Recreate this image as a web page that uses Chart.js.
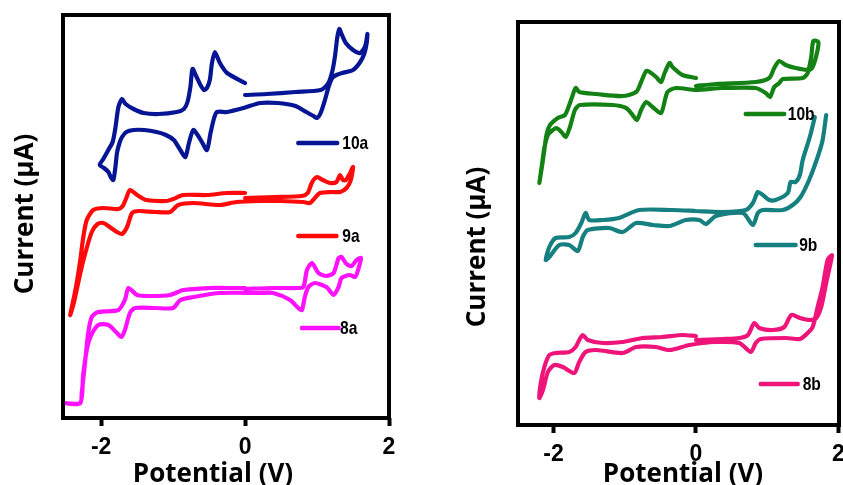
<!DOCTYPE html>
<html>
<head>
<meta charset="utf-8">
<script src="https://cdn.jsdelivr.net/npm/chart.js@4.4.1/dist/chart.umd.min.js"></script>
<style>
    html, body { margin: 0; padding: 0; background: #fff; overflow: hidden; width: 843px; height: 485px; }
    canvas { position: absolute; top: 0; }
    #leftChart { left: 0; }
    #rightChart { left: 423px; }
</style>
</head>
<body>
<canvas id="leftChart" width="420" height="485"></canvas>
<canvas id="rightChart" width="440" height="485"></canvas>
<script>
// tick labels of the potential axis
const xTicks = [-2, 0, 2];

const leftNames = ['10a', '9a', '8a'];
const rightNames = ['10b', '9b', '8b'];

// each curve: potential (V) and current (arbitrary, no y ticks), in sweep order
const cv10aV = [0.00, -0.25, -0.35, -0.42, -0.46, -0.49, -0.53, -0.57, -0.62, -0.68, -0.73, -0.76, -0.80, -0.85, -0.95, -1.20, -1.41, -1.55, -1.66, -1.71,
    -1.76, -1.80, -1.84, -1.90, -1.97, -2.02, -1.96, -1.90, -1.86, -1.83,
    -1.80, -1.78, -1.745, -1.71, -1.65, -1.55, -1.40, -1.23, -1.10, -0.99, -0.90, -0.83, -0.78, -0.72, -0.66, -0.60, -0.53, -0.48, -0.43, -0.39, -0.25, -0.02, 0.21, 0.45, 0.70, 0.85, 0.95, 1.00, 1.05, 1.11, 1.16, 1.21, 1.27, 1.35, 1.50, 1.60, 1.66, 1.69, 1.70,
    1.67, 1.60, 1.50, 1.40, 1.34, 1.31, 1.28, 1.25, 1.21, 1.15, 1.05, 0.70, 0.30, 0.00];
const cv10aI = [335, 345, 355, 366, 355, 338, 330, 328, 333, 342, 349, 331, 316, 309, 306, 304, 305, 309, 314, 319,
    311, 291, 276, 268, 259, 253, 250, 246, 240, 238,
    252, 265, 275, 281, 286, 288, 288, 286, 283, 278, 268, 261, 275, 288, 283, 276, 268, 285, 300, 306, 306, 310, 315, 315, 312, 306, 302, 300, 305, 318, 331, 340, 343, 345, 348, 356, 365, 375, 384,
    372, 365, 368, 375, 384, 389, 380, 362, 346, 334, 328, 326, 324, 323];

const cv9aV = [0.00, -0.25, -0.53, -0.86, -1.00, -1.09, -1.37, -1.50, -1.60, -1.65, -1.70, -1.76, -1.97, -2.11, -2.20, -2.25, -2.29, -2.34, -2.38, -2.43,
    -2.38, -2.34, -2.28, -2.22, -2.13, -2.05, -1.97, -1.88, -1.78, -1.71, -1.64, -1.57, -1.48, -1.25, -1.04, -0.93, -0.72, -0.35, -0.12, 0.21, 0.50, 0.81, 0.90, 0.97, 1.04, 1.20, 1.32, 1.41, 1.47, 1.50,
    1.46, 1.40, 1.36, 1.32, 1.27, 1.18, 1.08, 1.00, 0.96, 0.92, 0.87, 0.79, 0.40, 0.00];
const cv9aI = [225, 225, 223, 223, 219, 217, 218, 223, 228, 220, 212, 209, 210, 208, 198, 180, 158, 135, 120, 103,
    115, 128, 148, 165, 186, 194, 195, 191, 186, 184, 191, 205, 207, 206, 206, 213, 215, 213, 216, 217, 217, 216, 215, 220, 225, 226, 226, 230, 238, 251,
    245, 238, 238, 243, 236, 235, 238, 241, 239, 234, 225, 222, 221, 220];

const cv8aV = [0.00, -0.25, -0.49, -0.86, -1.04, -1.32, -1.50, -1.62, -1.67, -1.76, -2.04, -2.13, -2.18, -2.22, -2.27, -2.29, -2.51,
    -2.29, -2.25, -2.20, -2.15, -2.04, -1.90, -1.78, -1.72, -1.67, -1.60, -1.53, -1.25, -1.00, -0.90, -0.72, -0.35, 0.21, 0.39, 0.625, 0.74, 0.79, 0.83, 0.88, 0.97, 1.13, 1.23, 1.30, 1.34, 1.46, 1.53, 1.57, 1.61,
    1.55, 1.48, 1.41, 1.34, 1.30, 1.23, 1.13, 1.02, 0.93, 0.86, 0.81, 0.72, 0.39, 0.00];
const cv8aI = [130, 130, 130, 128, 123, 122, 123, 130, 118, 108, 106, 101, 85, 58, 25, 15, 15,
    15, 43, 68, 81, 93, 93, 85, 81, 88, 105, 110, 110, 110, 118, 121, 125, 125, 125, 118, 110, 108, 121, 131, 135, 131, 123, 131, 140, 143, 141, 148, 160,
    158, 152, 154, 161, 160, 145, 142, 145, 155, 148, 131, 130, 130, 129];

const cv10bV = [0.00, -0.19, -0.33, -0.37, -0.44, -0.49, -0.56, -0.65, -0.70, -0.77, -0.84, -1.03, -1.40, -1.64, -1.69, -1.74, -1.78, -1.84, -1.94, -2.05, -2.10, -2.13, -2.16, -2.20,
    -2.16, -2.13, -2.08, -2.01, -1.96, -1.89, -1.83, -1.77, -1.70, -1.63, -1.17, -0.98, -0.90, -0.83, -0.77, -0.70, -0.61, -0.49, -0.40, -0.28, 0.00, 0.37, 0.84, 0.98, 1.04, 1.10, 1.17, 1.22, 1.50, 1.57, 1.62, 1.65, 1.72,
    1.70, 1.64, 1.59, 1.40, 1.26, 1.17, 1.10, 1.03, 0.84, 0.28, 0.00];
const cv10bI = [347, 350, 358, 362, 352, 343, 348, 353, 354, 343, 333, 329, 331, 333, 337, 328, 320, 310, 307, 300, 290, 275, 260, 242,
    262, 277, 290, 295, 297, 293, 288, 298, 315, 320, 320, 317, 311, 305, 315, 323, 318, 312, 333, 337, 335, 337, 337, 332, 328, 338, 342, 346, 347, 352, 368, 384, 383,
    372, 358, 355, 357, 360, 364, 357, 347, 343, 341, 339];

// null marks the break between the two strokes at the anodic end
const cv9bV = [0.00, -0.33, -0.80, -1.08, -1.31, -1.50, -1.55, -1.61, -1.69, -1.78, -1.97, -2.06, -2.11,
    -2.06, -1.92, -1.78, -1.66, -1.59, -1.52, -1.22, -1.03, -0.84, -0.60, -0.37, -0.14, 0.05, 0.14, 0.28, 0.66, 0.80, 0.87, 0.94, 1.22, 1.36, 1.47, 1.59, 1.71, 1.78, 1.83,
    1.75, 1.67, 1.60, 1.50, 1.46, 1.40, 1.33, 1.29, 1.12, 1.03, 0.94, 0.87, 0.80, 0.70, 0.37, 0.00];
const cv9bI = [214, 215, 215, 207, 205, 205, 212, 202, 192, 188, 187, 178, 165,
    168, 180, 180, 174, 188, 195, 197, 193, 202, 200, 199, 205, 205, 201, 209, 212, 200, 212, 215, 215, 220, 228, 245, 268, 285, 310,
    null, 308, 288, 265, 250, 243, 243, 232, 225, 225, 230, 233, 222, 215, 213, 214];

const cv8bV = [0.00, -0.19, -0.47, -0.75, -1.03, -1.31, -1.52, -1.59, -1.64, -1.69, -1.78, -1.97, -2.06, -2.13, -2.18, -2.20,
    -2.15, -2.08, -1.99, -1.87, -1.71, -1.64, -1.55, -1.40, -1.03, -0.84, -0.56, -0.37, -0.09, 0.28, 0.61, 0.77, 0.84, 0.91, 1.27, 1.46, 1.57, 1.64, 1.71, 1.78, 1.85, 1.91,
    1.90, 1.83, 1.76, 1.69, 1.60, 1.46, 1.34, 1.24, 1.08, 0.89, 0.82, 0.73, 0.61, 0.37, 0.00];
const cv8bI = [89, 90, 88, 87, 83, 82, 85, 90, 85, 78, 73, 72, 70, 58, 42, 27,
    35, 53, 60, 58, 52, 63, 73, 75, 72, 78, 78, 75, 80, 83, 82, 73, 82, 86, 87, 86, 92, 98, 118, 138, 165, 170,
    165, 142, 118, 107, 105, 107, 110, 98, 95, 97, 102, 90, 87, 86, 85];

// legend sample lines, in data units: [start V, end V, current, label V]
const leftKeys = [[0.74, 1.28, 275, 1.35], [0.74, 1.27, 182, 1.35], [0.79, 1.30, 90, 1.32]];
const rightKeys = [[0.70, 1.24, 311, 1.29], [0.84, 1.40, 180, 1.45], [0.91, 1.43, 41, 1.50]];

const leftColors = ['#061593', '#ff0a0a', '#ff10ff'];
const rightColors = ['#138113', '#168080', '#ee1479'];

function pts(v, i) {
    return v.map((x, k) => ({ x: x, y: i[k] }));
}

const frame = {
    id: 'frame',
    afterDatasetsDraw(chart) {
        const { ctx, chartArea: a } = chart;
        ctx.save();
        ctx.lineWidth = 4;
        ctx.strokeStyle = '#000';
        ctx.strokeRect(a.left, a.top, a.right - a.left, a.bottom - a.top);
        ctx.restore();
    }
};

const keyLines = {
    id: 'keyLines',
    afterDatasetsDraw(chart, args, opts) {
        const { ctx, scales } = chart;
        ctx.save();
        opts.keys.forEach((k, n) => {
            const y = scales.y.getPixelForValue(k[2]);
            ctx.strokeStyle = opts.colors[n];
            ctx.lineWidth = 4.5;
            ctx.lineCap = 'round';
            ctx.beginPath();
            ctx.moveTo(scales.x.getPixelForValue(k[0]), y);
            ctx.lineTo(scales.x.getPixelForValue(k[1]), y);
            ctx.stroke();
            // narrow bold label
            ctx.save();
            ctx.translate(scales.x.getPixelForValue(k[3]), y + 1);
            ctx.scale(0.82, 1);
            ctx.fillStyle = '#000';
            ctx.font = 'bold 19px "Liberation Sans", sans-serif';
            ctx.textBaseline = 'middle';
            ctx.textAlign = 'left';
            ctx.fillText(opts.names[n], 0, 0);
            ctx.restore();
        });
        ctx.restore();
    }
};

const captions = {
    id: 'captions',
    afterDraw(chart, args, opts) {
        const ctx = chart.ctx;
        ctx.save();
        ctx.fillStyle = '#000';
        ctx.font = 'bold 26px "Open Sans", sans-serif';
        ctx.textAlign = 'center';
        ctx.textBaseline = 'alphabetic';
        ctx.fillText('Potential (V)', opts.xTitle[0], opts.xTitle[1]);
        ctx.translate(opts.yTitle[0], opts.yTitle[1]);
        ctx.rotate(-Math.PI / 2);
        ctx.fillText('Current (μA)', 0, 0);
        ctx.restore();
    }
};

function makePanel(id, curves, names, colors, keys, box) {
    const ctx = document.getElementById(id).getContext('2d');
    return new Chart(ctx, {
        type: 'scatter',
        data: {
            datasets: curves.map((c, n) => ({
                label: names[n],
                data: c,
                showLine: true,
                spanGaps: false,
                borderColor: colors[n],
                backgroundColor: colors[n],
                borderWidth: 4.2,
                borderCapStyle: 'round',
                borderJoinStyle: 'round',
                pointRadius: 0,
                tension: 0.25,
                fill: false
            }))
        },
        options: {
            responsive: false,
            animation: false,
            events: [],
            devicePixelRatio: 1,
            layout: { padding: { top: box.top, right: box.right, left: 0, bottom: 0 } },
            plugins: {
                legend: { display: false },
                tooltip: { enabled: false },
                keyLines: { keys: keys, names: names, colors: colors },
                captions: { xTitle: box.xTitle, yTitle: box.yTitle }
            },
            scales: {
                x: {
                    type: 'linear',
                    min: box.xMin,
                    max: box.xMax,
                    afterBuildTicks: s => { s.ticks = xTicks.map(v => ({ value: v })); },
                    afterFit: s => { s.height = box.xHeight; },
                    border: { display: false },
                    grid: { display: true, drawOnChartArea: false, drawTicks: true, tickLength: 8, tickWidth: 4, tickColor: '#000' },
                    ticks: {
                        color: '#000',
                        padding: 8,
                        maxRotation: 0,
                        font: { family: '"Liberation Sans", Arial, sans-serif', size: 23, weight: 'bold' }
                    }
                },
                y: {
                    type: 'linear',
                    min: 0,
                    max: 403,
                    afterFit: s => { s.width = box.yWidth; },
                    border: { display: false },
                    grid: { display: false },
                    ticks: { display: false }
                }
            }
        },
        plugins: [frame, keyLines, captions]
    });
}

makePanel('leftChart',
    [pts(cv10aV, cv10aI), pts(cv9aV, cv9aI), pts(cv8aV, cv8aI)],
    leftNames, leftColors, leftKeys,
    { top: 15, right: 31, yWidth: 63, xHeight: 67, xMin: -2.53, xMax: 2.0, xTitle: [213, 482], yTitle: [33, 214] });

makePanel('rightChart',
    [pts(cv10bV, cv10bI), pts(cv9bV, cv9bI), pts(cv8bV, cv8bI)],
    rightNames, rightColors, rightKeys,
    { top: 22, right: 24, yWidth: 95, xHeight: 60, xMin: -2.5, xMax: 2.01, xTitle: [260, 482], yTitle: [62, 247] });
</script>
</body>
</html>
